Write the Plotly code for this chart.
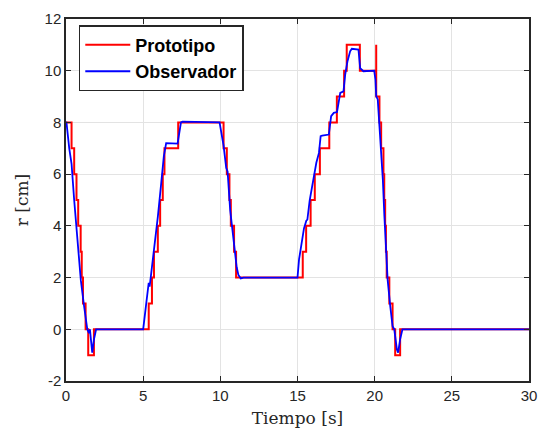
import plotly.graph_objects as go

# Prototipo (step signal): change times [s] and values [cm]
proto_t = [0, 0.36, 0.53, 0.68, 0.79, 0.95, 1.02, 1.10, 1.27, 1.44, 1.81,
           5.36, 5.57, 5.70, 5.95, 6.10, 6.27, 6.38, 7.27,
           10.21, 10.42, 10.59, 10.68, 10.89, 11.02,
           15.34, 15.56, 15.85, 16.12, 16.45, 17.06, 17.55, 18.02, 18.19, 19.04,
           20.10, 20.10, 20.31, 20.42, 20.57, 20.62, 20.68, 20.73, 20.78, 20.95,
           21.16, 21.33, 21.65, 30]
proto_r = [8, 7, 6, 5, 4, 3, 2, 1, 0, -1, 0,
           1, 2, 3, 4, 5, 6, 7, 8,
           7, 6, 5, 4, 3, 2,
           3, 4, 5, 6, 7, 8, 9, 10, 11, 10,
           11, 9, 8, 7, 6, 5, 4, 3, 2, 1,
           0, -1, 0, 0]

# Observador (estimated signal)
obs_t = [0, 0.03, 0.21, 0.36, 0.53, 0.75, 0.96, 1.17, 1.38, 1.49, 1.55, 1.70, 1.81, 1.95,
         5.0, 5.2, 5.36, 5.42, 5.53, 5.74, 5.95, 6.17, 6.34, 6.49, 7.23, 7.45, 7.55,
         9.95, 10.21, 10.38, 10.47, 10.64, 10.81, 10.96, 11.06, 11.17, 11.32, 11.5,
         15.0, 15.1, 15.25, 15.42, 15.57, 15.64, 15.79, 15.96, 16.07, 16.22, 16.39, 16.5,
         16.6, 17.03, 17.18, 17.35, 17.56, 17.77, 17.98, 18.09, 18.24, 18.41, 18.52,
         18.95, 19.06, 19.27, 19.97, 20.05, 20.1, 20.2, 20.31, 20.42, 20.53, 20.63,
         20.74, 20.84, 21.01, 21.16, 21.27, 21.44, 21.52, 21.65, 21.8, 30]
obs_r = [8, 8, 7.0, 6.4, 5.0, 3.5, 1.9, 0.9, 0.0, -0.15, 0.0, -0.9, -0.4, 0.0,
         0.0, 1.0, 1.8, 1.65, 2.2, 3.2, 4.35, 5.65, 6.7, 7.2, 7.18, 8.0, 8.03,
         8.0, 7.1, 6.25, 6.1, 4.6, 3.7, 2.8, 2.4, 2.1, 1.97, 2.0,
         2.0, 2.7, 3.2, 3.9, 4.2, 4.24, 4.99, 5.53, 5.92, 6.44, 6.82, 7.47,
         7.49, 7.53, 8.24, 8.37, 8.4, 9.14, 9.2, 9.85, 10.37, 10.75, 10.85,
         10.82, 10.1, 9.98, 10.0, 9.66, 9.02, 8.89, 7.85, 6.82, 5.79, 4.37,
         3.08, 1.92, 0.89, 0.12, 0.0, -0.78, -0.9, -0.39, 0.0, 0.0]

x_ticks = [0, 5, 10, 15, 20, 25, 30]
x_labels = ["0", "5", "10", "15", "20", "25", "30"]
y_ticks = [-2, 0, 2, 4, 6, 8, 10, 12]
y_labels = ["-2", "0", "2", "4", "6", "8", "10", "12"]

fig = go.Figure()
fig.add_trace(go.Scatter(x=proto_t, y=proto_r, mode="lines", name="<b>Prototipo</b>",
                         line=dict(color="#ff0000", width=2, shape="hv")))
fig.add_trace(go.Scatter(x=obs_t, y=obs_r, mode="lines", name="<b>Observador</b>",
                         line=dict(color="#0000ff", width=1.8)))

axis_common = dict(showline=True, linecolor="#262626", linewidth=1.5, mirror="ticks",
                   ticks="inside", ticklen=5, tickwidth=1, tickcolor="#262626",
                   showgrid=True, gridcolor="#e3e3e3", gridwidth=1, zeroline=False,
                   tickfont=dict(family="Liberation Sans, Arial", size=15, color="#262626"))

fig.update_xaxes(range=[0, 30], tickvals=x_ticks, ticktext=x_labels, **axis_common,
                 title=dict(text="Tiempo [s]", standoff=9,
                            font=dict(family="DejaVu Serif", size=17, color="#262626")))
fig.update_yaxes(range=[-2, 12], tickvals=y_ticks, ticktext=y_labels, **axis_common,
                 title=dict(text="r [cm]", standoff=12,
                            font=dict(family="DejaVu Serif", size=17, color="#262626")))

fig.update_layout(
    width=545, height=436,
    margin=dict(l=66, r=8, t=19, b=55),
    paper_bgcolor="white", plot_bgcolor="white",
    showlegend=True,
    legend=dict(x=0.0276, y=0.983, xanchor="left", yanchor="top",
                bgcolor="white", bordercolor="#262626", borderwidth=1.5,
                font=dict(family="Liberation Sans, Arial", size=18, color="#000000"),
                itemwidth=45, tracegroupgap=0),
)

fig.write_html("out.html")
